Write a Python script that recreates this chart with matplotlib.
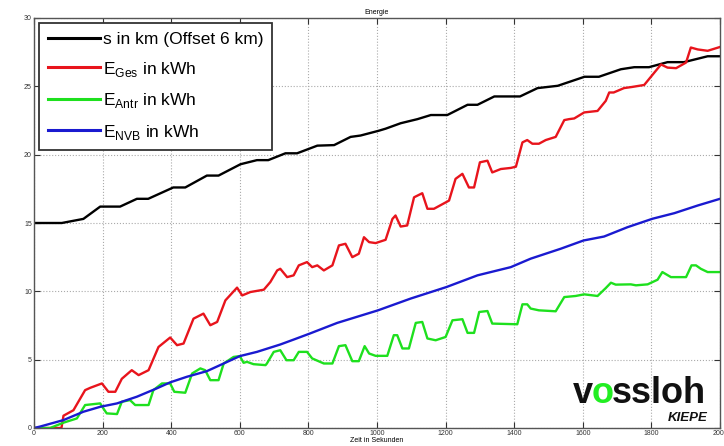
import numpy as np
import matplotlib
matplotlib.use("Agg")
import matplotlib.pyplot as plt

###################################
# data
###################################

# s in km (offset 6 km)
s_t = [0, 81, 144, 193, 251, 300, 333, 406, 441, 504, 538, 602, 650, 683, 733, 767,
       826, 875, 923, 952, 1005, 1025, 1069, 1118, 1157, 1205, 1264, 1293, 1342, 1417,
       1468, 1527, 1605, 1647, 1711, 1750, 1793, 1847, 1895, 1964, 2000]
s_km = [15.0, 15.0, 15.3, 16.2, 16.2, 16.77, 16.77, 17.6, 17.6, 18.47, 18.47, 19.3, 19.6,
        19.6, 20.1, 20.1, 20.66, 20.7, 21.3, 21.4, 21.75, 21.9, 22.3, 22.6, 22.9, 22.9,
        23.65, 23.65, 24.26, 24.26, 24.87, 25.04, 25.7, 25.7, 26.25, 26.4, 26.4, 26.77,
        26.77, 27.2, 27.2]

# E_Ges
ges_t = [0, 80, 86, 115, 149, 164, 198, 217, 237, 256, 285, 305, 334, 363, 397, 417,
         436, 465, 494, 514, 534, 558, 592, 607, 631, 670, 689, 709, 718, 738, 757,
         772, 796, 811, 826, 845, 870, 889, 908, 928, 947, 962, 977, 996, 1025, 1045,
         1054, 1069, 1088, 1108, 1132, 1147, 1166, 1210, 1229, 1249, 1268, 1283, 1300,
         1322, 1336, 1361, 1390, 1405, 1424, 1438, 1453, 1472, 1492, 1521, 1546, 1560,
         1575, 1604, 1643, 1667, 1677, 1690, 1720, 1745, 1779, 1828, 1847, 1872, 1901,
         1915, 1935, 1964, 2000]
ges_kwh = [0.0, 0.0, 0.9, 1.3, 2.77, 2.94, 3.26, 2.65, 2.65, 3.6, 4.23, 3.87, 4.23, 5.93,
           6.62, 6.06, 6.18, 8.0, 8.37, 7.52, 7.76, 9.34, 10.27, 9.7, 9.95, 10.12, 10.68,
           11.53, 11.65, 11.04, 11.17, 11.9, 12.14, 11.77, 11.9, 11.53, 11.9, 13.36, 13.48,
           12.5, 12.75, 13.96, 13.6, 13.53, 13.77, 15.3, 15.55, 14.74, 14.82, 16.88, 17.18,
           16.04, 16.04, 16.64, 18.23, 18.6, 17.6, 17.6, 19.44, 19.56, 18.7, 18.95, 19.03,
           19.12, 20.9, 21.07, 20.8, 20.8, 21.07, 21.3, 22.53, 22.6, 22.65, 23.09, 23.2,
           23.94, 24.55, 24.55, 24.87, 24.96, 25.1, 26.6, 26.37, 26.33, 26.74, 27.84, 27.7,
           27.6, 27.88]

# E_Antr
antr_t = [0, 47, 86, 125, 149, 193, 202, 212, 242, 256, 280, 295, 334, 348, 373, 397,
          409, 441, 461, 485, 499, 514, 538, 553, 582, 600, 611, 621, 640, 675, 679,
          699, 718, 736, 757, 772, 796, 811, 845, 870, 889, 908, 928, 947, 964, 977,
          996, 1030, 1049, 1059, 1074, 1093, 1113, 1132, 1147, 1171, 1200, 1220, 1249,
          1264, 1283, 1298, 1322, 1336, 1409, 1424, 1438, 1448, 1472, 1521, 1546, 1579,
          1604, 1643, 1667, 1682, 1696, 1740, 1755, 1789, 1818, 1832, 1857, 1901, 1917,
          1930, 1944, 1964, 2000]
antr_kwh = [0.0, 0.0, 0.39, 0.7, 1.68, 1.8, 1.44, 1.07, 1.02, 1.92, 2.04, 1.68, 1.68, 2.77,
            3.26, 3.26, 2.65, 2.58, 3.99, 4.36, 4.23, 3.5, 3.5, 4.72, 5.2, 5.26, 4.77, 4.84,
            4.67, 4.6, 4.72, 5.57, 5.69, 4.96, 4.96, 5.57, 5.57, 5.09, 4.72, 4.72, 5.99,
            6.06, 4.89, 4.89, 5.99, 5.45, 5.28, 5.28, 6.79, 6.79, 5.82, 5.82, 7.69, 7.76,
            6.55, 6.42, 6.66, 7.88, 7.96, 6.96, 6.96, 8.49, 8.56, 7.64, 7.59, 9.05, 9.05,
            8.74, 8.61, 8.54, 9.58, 9.66, 9.78, 9.66, 10.24, 10.63, 10.49, 10.51, 10.44,
            10.51, 10.85, 11.41, 11.04, 11.04, 11.9, 11.9, 11.65, 11.41, 11.41]

# E_NVB
nvb_t = [0, 17, 86, 144, 193, 242, 300, 358, 397, 446, 504, 553, 600, 650, 718, 757,
         804, 884, 1003, 1098, 1202, 1293, 1390, 1448, 1536, 1602, 1662, 1730, 1803,
         1867, 1935, 2000]
nvb_kwh = [0.0, 0.1, 0.58, 1.19, 1.55, 1.8, 2.29, 2.9, 3.34, 3.75, 4.16, 4.72, 5.26, 5.57,
           6.11, 6.47, 6.91, 7.69, 8.61, 9.47, 10.31, 11.17, 11.77, 12.39, 13.12, 13.72,
           14.01, 14.69, 15.31, 15.72, 16.28, 16.77]

labels = ["s in km (Offset 6 km)",
          r"E$_{\mathrm{Ges}}$ in kWh",
          r"E$_{\mathrm{Antr}}$ in kWh",
          r"E$_{\mathrm{NVB}}$ in kWh"]

###################################
# plot
###################################
plt.rcParams['font.family'] = ['Liberation Sans', 'DejaVu Sans']
plt.rcParams['mathtext.fontset'] = 'custom'
plt.rcParams['mathtext.rm'] = 'Liberation Sans'

fig = plt.figure(figsize=(7.24, 4.46), dpi=100)
ax = fig.add_axes([34/724, 18/446, 686/724, 410/446])

ax.plot(s_t, s_km, color='black', lw=1.7, label=labels[0])
ax.plot(ges_t, ges_kwh, color='#e8141c', lw=1.7, label=labels[1])
ax.plot(antr_t, antr_kwh, color='#1ee01e', lw=1.7, label=labels[2])
ax.plot(nvb_t, nvb_kwh, color='#1a1ad0', lw=1.7, label=labels[3])

ax.set_xlim(0, 2000)
ax.set_ylim(0, 30)
ax.set_xticks(np.arange(0, 2001, 200))
ax.set_yticks(np.arange(0, 31, 5))
ax.tick_params(direction='in', top=True, right=True, labelsize=5, length=4,
               width=0.8, pad=1.5, colors='#333333')
ax.grid(True, linestyle=':', color='#aaaaaa', lw=0.8)
for sp in ax.spines.values():
    sp.set_color('#555555')
    sp.set_linewidth(1.0)

ax.set_title("Energie", fontsize=5, pad=3)
ax.set_xlabel("Zeit in Sekunden", fontsize=5, labelpad=0)

leg = ax.legend(loc='upper left', fontsize=12.5, handlelength=3.0, handletextpad=0.15,
                labelspacing=0.72, borderaxespad=0.3, borderpad=0.5,
                fancybox=False, framealpha=1, edgecolor='#333333')
leg.get_frame().set_linewidth(1.3)
for ln in leg.get_lines():
    ln.set_linewidth(2.2)

# logo: pieces placed one after the other in pixel units
fig.canvas.draw()
rend = fig.canvas.get_renderer()
inv = fig.transFigure.inverted()
x_px, base_px = 573, 446 - 403
for piece, col in [("v", '#111111'), ("o", '#22ee22'), ("ssloh", '#111111')]:
    fx, fy = inv.transform((x_px, base_px))
    t = fig.text(fx, fy, piece, fontsize=26, fontweight='bold', color=col,
                 ha='left', va='baseline')
    bb = t.get_window_extent(rend)
    x_px = bb.x1 - 1.5
fx, fy = inv.transform((708, 446 - 421))
fig.text(fx, fy, "KIEPE", fontsize=9.5, fontweight='bold', style='italic',
         color='#111111', ha='right', va='baseline')

plt.savefig("out.png", dpi=100)
